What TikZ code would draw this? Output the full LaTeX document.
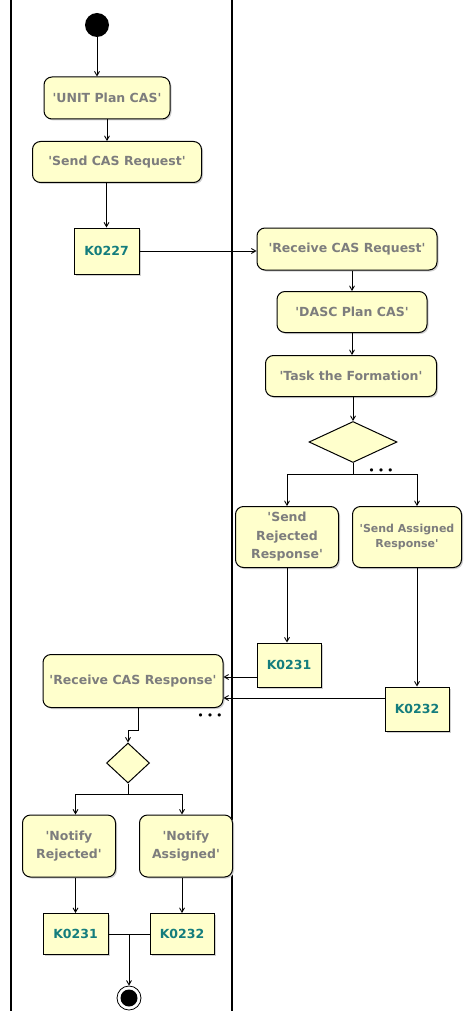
\documentclass[tikz,border=0pt]{standalone}
\usepackage{fontspec}
\setmainfont{DejaVu Sans}
\usepackage{tikz}
\usetikzlibrary{arrows}
\usetikzlibrary{positioning,shapes.geometric,shadows}
\definecolor{actfill}{RGB}{255,255,204}
\definecolor{acttext}{RGB}{125,125,125}
\definecolor{objtext}{RGB}{20,125,125}
\newcommand{\actlabel}[1]{\textquotesingle#1\textquotesingle}
\tikzset{
    font={\fontsize{12.5pt}{18.5}\selectfont\bfseries},
    action/.style={
           rectangle,
           rounded corners=8pt,
           draw=black, line width=1pt,
           fill=actfill,
           text=acttext,
           inner sep=1pt,
           align=center,
           drop shadow={shadow xshift=1.5pt,shadow yshift=-1.5pt,opacity=1,fill=black!18},
           },
    object/.style={
           rectangle,
           draw=black, line width=1pt,
           fill=actfill,
           text=objtext,
           inner sep=1pt,
           drop shadow={shadow xshift=1.5pt,shadow yshift=-1.5pt,opacity=1,fill=black!18},
           },
    decision/.style={diamond, draw=black, line width=1pt, fill=actfill, inner sep=0pt},
    startnode/.style={circle, fill=black, minimum size=24pt, inner sep=0pt},
    endnode/.style={circle, draw=black, thick, fill=white, minimum size=24pt, inner sep=0pt,
           path picture={\fill[black] (path picture bounding box.center) circle (8.5pt);}},
    moredots/.style={inner sep=0pt, text=black, font={\fontsize{11pt}{11}\selectfont}},
}

\begin{document}
\begin{tikzpicture}[->,>=angle 60,x=1pt,y=-1pt,line width=0.9pt]
\useasboundingbox (0,0) rectangle (463,1011);

% swimlanes
\draw[-,line width=1.5pt] (11,0) -- (11,1011);
\draw[-,line width=2.5pt] (232,0) -- (232,1011);

% left lane: request
\node[startnode] (START) at (97,25) {};
\node[action, minimum width=126pt, minimum height=42pt] (UNITPLAN) at (107,98) {\actlabel{UNIT Plan CAS}};
\node[action, minimum width=169pt, minimum height=41pt] (SENDREQ) at (117,162) {\actlabel{Send CAS Request}};
\node[object, minimum width=65pt, minimum height=46pt] (K0227) at (106.5,251) {K0227};

% right lane
\node[action, minimum width=180pt, minimum height=42pt] (RECVREQ) at (347,249) {\actlabel{Receive CAS Request}};
\node[action, minimum width=150pt, minimum height=41pt] (DASCPLAN) at (352,312) {\actlabel{DASC Plan CAS}};
\node[action, minimum width=171pt, minimum height=41pt] (TASKFORM) at (351,376) {\actlabel{Task the Formation}};
\node[decision, minimum width=88pt, minimum height=41pt] (DECIDE) at (353,442) {};
\node[moredots] (MOREA) at (381,472) {\textbullet\hspace{3pt}\textbullet\hspace{3pt}\textbullet};
\node[action, minimum width=103pt, minimum height=61pt] (SENDREJ) at (287,537) {\textquotesingle Send\\Rejected\\Response\textquotesingle};
\node[action, minimum width=109pt, minimum height=61pt, font={\fontsize{11pt}{15}\selectfont\bfseries}] (SENDASG) at (407,537) {\textquotesingle Send Assigned\\Response\textquotesingle};
\node[object, minimum width=64pt, minimum height=44pt] (K0231R) at (289,665) {K0231};
\node[object, minimum width=64pt, minimum height=44pt] (K0232R) at (417,709) {K0232};

% left lane: response
\node[action, minimum width=180pt, minimum height=53pt] (RECVRESP) at (133,681) {\actlabel{Receive CAS Response}};
\node[moredots] (MOREB) at (210,717) {\textbullet\hspace{3pt}\textbullet\hspace{3pt}\textbullet};
\node[decision, minimum width=43pt, minimum height=40pt] (CHOICE) at (128,763) {};
\node[action, minimum width=93pt, minimum height=62pt] (NOTIFYREJ) at (69,846) {\textquotesingle Notify\\Rejected\textquotesingle};
\node[action, minimum width=93pt, minimum height=62pt] (NOTIFYASG) at (186,846) {\textquotesingle Notify\\Assigned\textquotesingle};
\node[object, minimum width=65pt, minimum height=41pt] (K0231L) at (75.5,934) {K0231};
\node[object, minimum width=64pt, minimum height=41pt] (K0232L) at (182,934) {K0232};
\coordinate (JOIN) at (129,934);
\node[endnode] (FINAL) at (129,998) {};

\path (START)                  edge (START |- UNITPLAN.north)
(UNITPLAN.south)               edge (UNITPLAN.south |- SENDREQ.north)
(K0227 |- SENDREQ.south)       edge (K0227.north)
(K0227.east)                   edge (K0227.east -| RECVREQ.west)
(DASCPLAN |- RECVREQ.south)    edge (DASCPLAN.north)
(DASCPLAN.south)               edge (DASCPLAN.south |- TASKFORM.north)
(DECIDE |- TASKFORM.south)     edge (DECIDE.north)
(SENDREJ.south)                edge (SENDREJ.south |- K0231R.north)
(K0232R |- SENDASG.south)      edge (K0232R.north)
([yshift=-12pt]K0231R.west)    edge ([yshift=-12pt]K0231R.west -| RECVRESP.east)
([yshift=11pt]K0232R.west)     edge ([yshift=11pt]K0232R.west -| RECVRESP.east)
(K0231L |- NOTIFYREJ.south)    edge (K0231L.north)
(K0232L |- NOTIFYASG.south)    edge (K0232L.north)
(JOIN)                         edge (FINAL);

\draw (DECIDE.south) -- ++(0,11) -| (SENDREJ.north);
\draw (DECIDE.south) -- ++(0,11) -| (K0232R |- SENDASG.north);
\draw ([xshift=5pt]RECVRESP.south) -- ++(0,22) -| (CHOICE.north);
\draw (CHOICE.south) -- ++(0,11) -| (K0231L |- NOTIFYREJ.north);
\draw (CHOICE.south) -- ++(0,11) -| (K0232L |- NOTIFYASG.north);
\draw[-] (K0231L.east) -- (K0232L.west);

\end{tikzpicture}
\end{document}
